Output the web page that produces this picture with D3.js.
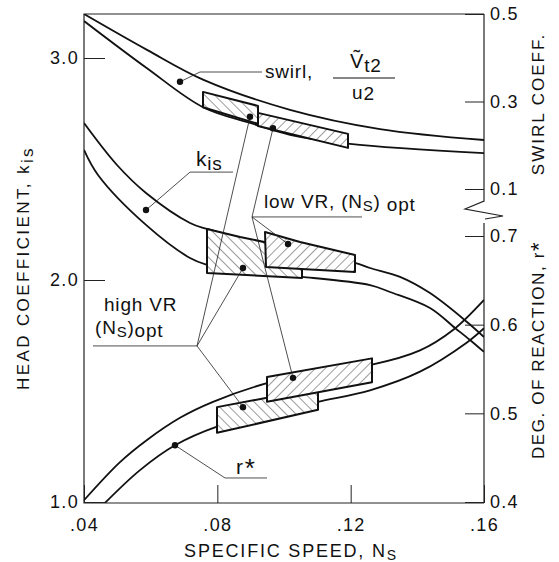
<!DOCTYPE html>
<html>
<head>
<meta charset="utf-8">
<script src="https://cdn.jsdelivr.net/npm/d3@7"></script>
<style>
  body { margin: 0; background: #fff; }
  text { font-family: "Liberation Sans", Arial, sans-serif; fill: #111; }
</style>
</head>
<body>
<svg id="chart" width="559" height="562"></svg>
<script>
// ---- data ----
const nsTicks = [0.04, 0.08, 0.12, 0.16];
const headTicks = [1.0, 2.0, 3.0];
const swirlTicks = [0.1, 0.3, 0.5];
const reactionTicks = [0.4, 0.5, 0.6, 0.7];

// swirl coefficient band [Ns, swirl]
const swirlUpper = [[0.04, 0.5], [0.0589, 0.418], [0.0757, 0.350], [0.1018, 0.281], [0.1288, 0.237], [0.16, 0.212]];
const swirlLower = [[0.04, 0.484], [0.0589, 0.376], [0.0757, 0.287], [0.0898, 0.251], [0.1018, 0.224], [0.1198, 0.203], [0.16, 0.182]];

// head coefficient band [Ns, k_is]
const headUpper = [[0.04, 2.707], [0.0499, 2.518], [0.0586, 2.392], [0.0718, 2.257], [0.0769, 2.230], [0.0943, 2.162],
  [0.1048, 2.122], [0.1213, 2.077], [0.1258, 2.054], [0.1348, 2.014], [0.1438, 1.941], [0.1549, 1.811], [0.16, 1.743]];
const headLower = [[0.04, 2.586], [0.0442, 2.473], [0.0586, 2.248], [0.0718, 2.099], [0.0769, 2.068], [0.0898, 2.032],
  [0.1054, 2.014], [0.1258, 1.977], [0.1318, 1.946], [0.1438, 1.874], [0.1513, 1.784], [0.1558, 1.730], [0.16, 1.676]];

// degree of reaction band [Ns, r*]
const reactUpper = [[0.04, 0.402], [0.0508, 0.445], [0.0589, 0.470], [0.0688, 0.495], [0.0787, 0.513], [0.0949, 0.534],
  [0.1108, 0.547], [0.1264, 0.555], [0.1408, 0.571], [0.1507, 0.594], [0.16, 0.628]];
const reactLower = [[0.0463, 0.399], [0.0568, 0.436], [0.0673, 0.464], [0.0799, 0.485], [0.0949, 0.500], [0.1102, 0.513],
  [0.1258, 0.526], [0.1408, 0.547], [0.1549, 0.580], [0.16, 0.596]];

// optimum regions (hatched boxes), corners [Ns, value]
const swirlHighVR = [[0.0757, 0.322], [0.0922, 0.290], [0.0922, 0.249], [0.0757, 0.287]];
const swirlLowVR = [[0.0922, 0.274], [0.1192, 0.226], [0.1192, 0.194], [0.0922, 0.244]];
const headHighVR = [[0.0769, 2.230], [0.0868, 2.194], [0.1054, 2.135], [0.1054, 2.009], [0.0769, 2.032]];
const headLowVR = [[0.0943, 2.216], [0.1048, 2.171], [0.1213, 2.113], [0.1213, 2.036], [0.0946, 2.059]];
const reactHighVR = [[0.0799, 0.507], [0.1102, 0.5285], [0.1102, 0.504], [0.0799, 0.478]];
const reactLowVR = [[0.0949, 0.541], [0.1264, 0.562], [0.1264, 0.535], [0.0949, 0.513]];

// marker dots
const swirlDots = [[0.0688, 0.345], [0.0898, 0.265], [0.0967, 0.239]];
const headDots = [[0.0586, 2.315], [0.0877, 2.054], [0.1012, 2.162]];
const reactDots = [[0.0673, 0.464], [0.0877, 0.507], [0.1027, 0.540]];

// ---- scales ----
const svg = d3.select("#chart");
const x = d3.scaleLinear().domain([0.04, 0.16]).range([84, 484]);
const yHead = d3.scaleLinear().domain([1.0, 3.2]).range([502, 13.6]);
const ySwirl = d3.scaleLinear().domain([0.1, 0.5]).range([189, 14]);
const yReact = d3.scaleLinear().domain([0.4, 0.7]).range([502, 236]);
const pL = 84, pR = 484, pT = 14, pB = 503;

const defs = svg.append("defs");
defs.append("clipPath").attr("id", "plot")
  .append("rect").attr("x", pL).attr("y", pT).attr("width", pR - pL).attr("height", pB - pT);

function hatch(id, angle) {
  const p = defs.append("pattern").attr("id", id).attr("patternUnits", "userSpaceOnUse")
    .attr("width", 7).attr("height", 7).attr("patternTransform", `rotate(${angle})`);
  p.append("rect").attr("width", 7).attr("height", 7).attr("fill", "#fff");
  p.append("line").attr("x1", 0).attr("y1", 0).attr("x2", 0).attr("y2", 7)
    .attr("stroke", "#222").attr("stroke-width", 0.9);
}
hatch("hatchHigh", -45);
hatch("hatchLow", 45);

// ---- frame ----
const frame = svg.append("g").attr("stroke", "#222").attr("fill", "none");
frame.append("path").attr("stroke-width", 1.2)
  .attr("d", `M${pR},${pT}H${pL}V${pB}H${pR}`);
frame.append("path").attr("stroke-width", 1.2)
  .attr("d", `M${pR},${pT}V201L465,209L503,216L485,219`);
frame.append("path").attr("stroke-width", 1.2).attr("d", `M${pR},223V${pB}`);

// ---- axes ----
const fmt1 = d3.format(".1f");
function styleAxis(g) {
  g.select(".domain").remove();
  g.selectAll("line").attr("stroke", "#222").attr("stroke-width", 1);
  g.selectAll("text").attr("font-size", 18).attr("letter-spacing", 1.3)
    .attr("font-family", '"Liberation Sans", Arial, sans-serif').attr("fill", "#111");
}
svg.append("g").attr("transform", `translate(${pL},0)`)
  .call(d3.axisLeft(yHead).tickValues(headTicks).tickFormat(fmt1).tickSizeInner(-21).tickSizeOuter(0).tickPadding(5))
  .call(styleAxis);
svg.append("g").attr("transform", `translate(0,${pB})`)
  .call(d3.axisBottom(x).tickValues(nsTicks).tickFormat(d => d3.format(".2f")(d).replace(/^0/, ""))
    .tickSizeInner(-18).tickSizeOuter(0).tickPadding(15))
  .call(styleAxis);
svg.append("g").attr("transform", `translate(${pR},0)`)
  .call(d3.axisRight(ySwirl).tickValues(swirlTicks).tickFormat(fmt1).tickSizeInner(-19).tickSizeOuter(0).tickPadding(6))
  .call(styleAxis);
svg.append("g").attr("transform", `translate(${pR},0)`)
  .call(d3.axisRight(yReact).tickValues(reactionTicks).tickFormat(fmt1).tickSizeInner(-19).tickSizeOuter(0).tickPadding(6))
  .call(styleAxis);

// ---- curves ----
const plot = svg.append("g").attr("clip-path", "url(#plot)");
function band(data, yScale) {
  plot.append("path").datum(data)
    .attr("fill", "none").attr("stroke", "#111").attr("stroke-width", 1.8)
    .attr("d", d3.line().x(d => x(d[0])).y(d => yScale(d[1])).curve(d3.curveCatmullRom.alpha(0.5)));
}
band(swirlUpper, ySwirl); band(swirlLower, ySwirl);
band(headUpper, yHead); band(headLower, yHead);
band(reactUpper, yReact); band(reactLower, yReact);

// ---- hatched boxes ----
function box(data, yScale, pat) {
  svg.append("path").datum(data)
    .attr("fill", `url(#${pat})`).attr("stroke", "#111").attr("stroke-width", 2).attr("stroke-linejoin", "round")
    .attr("d", d3.line().x(d => x(d[0])).y(d => yScale(d[1])).curve(d3.curveLinearClosed));
}
box(swirlHighVR, ySwirl, "hatchHigh"); box(swirlLowVR, ySwirl, "hatchLow");
box(headHighVR, yHead, "hatchHigh"); box(headLowVR, yHead, "hatchLow");
box(reactHighVR, yReact, "hatchHigh"); box(reactLowVR, yReact, "hatchLow");

// ---- leader lines ----
const leaders = svg.append("g").attr("fill", "none").attr("stroke", "#222").attr("stroke-width", 0.8);
function leader(pts) {
  leaders.append("path").attr("d", d3.line()(pts));
}
// label leaders
leader([[x(swirlDots[0][0]), ySwirl(swirlDots[0][1])], [x(0.0748), ySwirl(0.3674)], [x(0.0934), ySwirl(0.3674)]]);
leader([[x(headDots[0][0]), yHead(headDots[0][1])], [x(0.0718), yHead(2.486)], [x(0.0847), yHead(2.486)]]);
leader([[x(reactDots[0][0]), yReact(reactDots[0][1])], [x(0.0823), yReact(0.4271)], [x(0.0949), yReact(0.4271)]]);
// high VR fan
const hiA = [x(0.0739), yHead(1.703)];
leader([[x(0.0427), hiA[1]], hiA]);
leader([hiA, [x(swirlDots[1][0]), ySwirl(swirlDots[1][1])]]);
leader([hiA, [x(headDots[1][0]), yHead(headDots[1][1])]]);
leader([hiA, [x(reactDots[1][0]), yReact(reactDots[1][1])]]);
// low VR fan
const loA = [x(0.0904), yHead(2.284)];
leader([loA, [x(0.1234), loA[1]]]);
leader([loA, [x(swirlDots[2][0]), ySwirl(swirlDots[2][1])]]);
leader([loA, [x(headDots[2][0]), yHead(headDots[2][1])]]);
leader([loA, [x(reactDots[2][0]), yReact(reactDots[2][1])]]);

// ---- dots ----
const dots = svg.append("g").attr("fill", "#111");
swirlDots.forEach(d => dots.append("circle").attr("cx", x(d[0])).attr("cy", ySwirl(d[1])).attr("r", 3.2));
headDots.forEach(d => dots.append("circle").attr("cx", x(d[0])).attr("cy", yHead(d[1])).attr("r", 3.2));
reactDots.forEach(d => dots.append("circle").attr("cx", x(d[0])).attr("cy", yReact(d[1])).attr("r", 3.2));

// ---- annotations ----
const ann = svg.append("g").attr("font-size", 19).attr("letter-spacing", 0.8);
ann.append("text").attr("x", 265).attr("y", 78).text("swirl,");
const vt = ann.append("text").attr("x", 350).attr("y", 68).attr("font-size", 20).text("Ṽ");
vt.append("tspan").attr("dy", 4).attr("font-size", 19).text("t2");
ann.append("line").attr("x1", 333).attr("x2", 395).attr("y1", 78).attr("y2", 78).attr("stroke", "#111").attr("stroke-width", 1);
ann.append("text").attr("x", 352).attr("y", 99).text("u")
  .append("tspan").attr("dy", 1).text("2");

const kLab = ann.append("text").attr("x", 196).attr("y", 166).attr("font-size", 21).text("k");
kLab.append("tspan").attr("dy", 4).attr("font-size", 19).text("is");

const lowLab = ann.append("text").attr("x", 264).attr("y", 208).text("low VR, (N");
lowLab.append("tspan").attr("font-size", 15).attr("dy", 3).text("S");
lowLab.append("tspan").attr("dy", -3).text(") ");
lowLab.append("tspan").attr("dy", 3).text("opt");

ann.append("text").attr("x", 104).attr("y", 311).text("high VR");
const hiLab = ann.append("text").attr("x", 95).attr("y", 334).text("(N");
hiLab.append("tspan").attr("font-size", 15).attr("dy", 3).text("S");
hiLab.append("tspan").attr("dy", -3).text(")");
hiLab.append("tspan").attr("dy", 3).text("opt");

const rLab = ann.append("text").attr("x", 236).attr("y", 474).attr("font-size", 21).text("r");
rLab.append("tspan").attr("font-size", 26).attr("dy", 3).attr("dx", 1).text("*");

// ---- axis titles ----
const titles = svg.append("g").attr("font-size", 17).attr("letter-spacing", 2.4);
const xt = titles.append("text").attr("x", 291).attr("y", 557).attr("text-anchor", "middle").attr("font-size", 18).attr("letter-spacing", 1.8)
  .text("SPECIFIC SPEED, N");
xt.append("tspan").attr("font-size", 14).attr("dy", 3).text("S");

const yt = titles.append("text").attr("transform", "translate(29,268) rotate(-90)").attr("text-anchor", "middle")
  .text("HEAD COEFFICIENT, k");
yt.append("tspan").attr("dy", 4).text("is");

titles.append("text").attr("transform", "translate(544,104) rotate(-90)").attr("text-anchor", "middle")
  .attr("letter-spacing", 2).text("SWIRL COEFF.");
const rt = titles.append("text").attr("transform", "translate(544,350) rotate(-90)").attr("text-anchor", "middle")
  .attr("letter-spacing", 1.6).text("DEG. OF REACTION, r");
rt.append("tspan").attr("font-size", 22).attr("dy", 2).text("*");
</script>
</body>
</html>
